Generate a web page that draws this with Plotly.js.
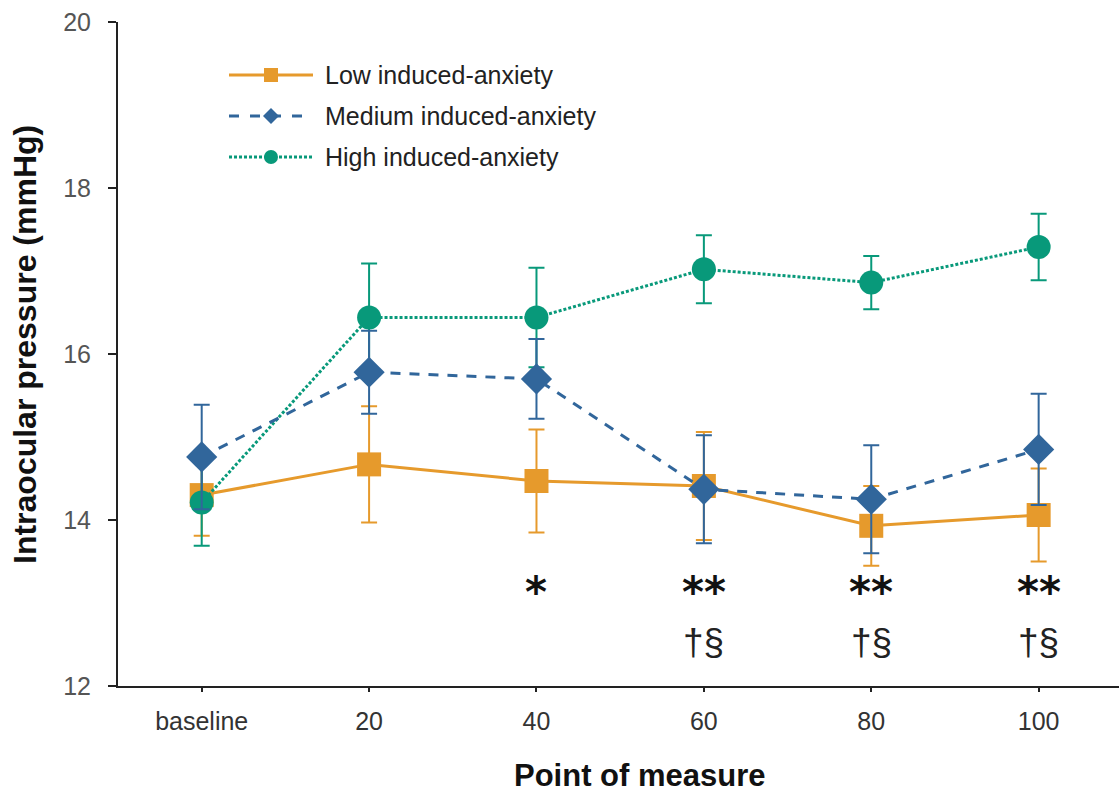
<!DOCTYPE html>
<html>
<head>
<meta charset="utf-8">
<script src="https://cdn.plot.ly/plotly-3.0.1.min.js"></script>
<style>
  html, body { margin: 0; padding: 0; background: #ffffff; }
  #chart { width: 1119px; height: 794px; }
</style>
</head>
<body>
<div id="chart"></div>
<script>
// Measurement points
var points = ['baseline', '20', '40', '60', '80', '100'];

// Mean intraocular pressure (mmHg) and error per group
var lowIOP = [14.30, 14.67, 14.47, 14.41, 13.93, 14.06];
var lowErr = [0.49, 0.70, 0.62, 0.65, 0.48, 0.56];

var medIOP = [14.76, 15.78, 15.70, 14.37, 14.25, 14.85];
var medErr = [0.63, 0.50, 0.48, 0.65, 0.65, 0.67];

var highIOP = [14.21, 16.44, 16.44, 17.02, 16.86, 17.29];
var highErr = [0.52, 0.65, 0.60, 0.41, 0.32, 0.40];

// Significance markers per point
var sigStars = ['', '', '*', '**', '**', '**'];
var sigSymbols = ['', '', '', '†§', '†§', '†§'];

var groupNames = ['Low induced-anxiety', 'Medium induced-anxiety', 'High induced-anxiety'];

var ORANGE = '#E69A2C';
var BLUE = '#31669B';
var GREEN = '#08997A';

var FONT = 'Liberation Sans, Arial, Helvetica, sans-serif';

function series(name, y, err, color, symbol, dash) {
  return {
    type: 'scatter',
    mode: 'lines+markers',
    name: name,
    x: points,
    y: y,
    line: { color: color, width: 3, dash: dash },
    marker: { symbol: symbol, size: 24, color: color, line: { width: 0 } },
    error_y: { type: 'data', array: err, visible: true, color: color, thickness: 2, width: 8 },
    cliponaxis: false
  };
}

// Drawing order: low, high, medium (medium on top)
var traces = [
  series(groupNames[0], lowIOP, lowErr, ORANGE, 'square', 'solid'),
  series(groupNames[2], highIOP, highErr, GREEN, 'circle', '3px,2px'),
  series(groupNames[1], medIOP, medErr, BLUE, 'diamond', '10px,9px')
];

// Plot-area geometry (pixels) used to place the hand-built legend
var L = 118, T = 22, W = 1001, H = 664;
function px(X) { return (X - L) / W; }
function py(Y) { return (T + H - Y) / H; }

var shapes = [];
var annotations = [];

var legendRows = [
  { name: groupNames[0], color: ORANGE, dash: 'solid', marker: 'square', y: 75 },
  { name: groupNames[1], color: BLUE, dash: '10px,11px', marker: 'diamond', y: 116 },
  { name: groupNames[2], color: GREEN, dash: '3px,2px', marker: 'circle', y: 157 }
];

legendRows.forEach(function (r) {
  shapes.push({
    type: 'line', xref: 'paper', yref: 'paper',
    x0: px(229), x1: px(313), y0: py(r.y), y1: py(r.y),
    line: { color: r.color, width: 3, dash: r.dash }
  });
  var common = {
    xref: 'paper', yref: 'paper',
    xsizemode: 'pixel', ysizemode: 'pixel',
    xanchor: px(271), yanchor: py(r.y),
    fillcolor: r.color, line: { width: 0 }
  };
  if (r.marker === 'square') {
    shapes.push(Object.assign({ type: 'rect', x0: -7, x1: 7, y0: -7, y1: 7 }, common));
  } else if (r.marker === 'circle') {
    shapes.push(Object.assign({ type: 'circle', x0: -7, x1: 7, y0: -7, y1: 7 }, common));
  } else {
    shapes.push(Object.assign({ type: 'path', path: 'M0,-8 L8,0 L0,8 L-8,0 Z' }, common));
  }
  annotations.push({
    xref: 'paper', yref: 'paper', x: px(323), y: py(r.y),
    xanchor: 'left', yanchor: 'middle', showarrow: false,
    text: r.name, font: { family: FONT, size: 25, color: '#222222' }
  });
});

// Significance annotations below the curves (x given as category index);
// the star row sits directly on top of the symbol row
points.forEach(function (p, i) {
  if (sigStars[i]) {
    annotations.push({
      x: i, y: 12.81, xref: 'x', yref: 'y',
      xanchor: 'center', yanchor: 'bottom', showarrow: false,
      text: '<b>' + sigStars[i] + '</b>',
      font: { family: 'DejaVu Sans, sans-serif', size: 42, color: '#111111' }
    });
  }
  if (sigSymbols[i]) {
    annotations.push({
      x: i, y: 12.79, xref: 'x', yref: 'y',
      xanchor: 'center', yanchor: 'top', showarrow: false,
      text: sigSymbols[i],
      font: { family: FONT, size: 37, color: '#222222' }
    });
  }
});

// Axis titles
annotations.push({
  xref: 'paper', yref: 'paper', x: px(640), y: py(775),
  xanchor: 'center', yanchor: 'middle', showarrow: false,
  text: '<b>Point of measure</b>',
  font: { family: FONT, size: 31, color: '#111111' }
});
annotations.push({
  xref: 'paper', yref: 'paper', x: px(25), y: py(345),
  xanchor: 'center', yanchor: 'middle', showarrow: false, textangle: -90,
  text: '<b>Intraocular pressure (mmHg)</b>',
  font: { family: FONT, size: 32, color: '#111111' }
});

var layout = {
  width: 1119,
  height: 794,
  margin: { l: L, r: 0, t: T, b: 794 - T - H },
  paper_bgcolor: '#ffffff',
  plot_bgcolor: '#ffffff',
  showlegend: false,
  font: { family: FONT },
  xaxis: {
    type: 'category',
    range: [-0.5, 5.48],
    showgrid: false,
    zeroline: false,
    showline: true,
    linecolor: '#222222',
    linewidth: 2,
    ticks: 'outside',
    ticklen: 4,
    tickwidth: 2,
    tickcolor: '#222222',
    ticklabelstandoff: 8,
    tickfont: { family: FONT, size: 25, color: '#333333' }
  },
  yaxis: {
    range: [12, 20],
    dtick: 2,
    tick0: 12,
    showgrid: false,
    zeroline: false,
    showline: true,
    linecolor: '#222222',
    linewidth: 2,
    ticks: 'outside',
    ticklen: 8,
    tickwidth: 2,
    tickcolor: '#222222',
    ticklabelstandoff: 12,
    tickfont: { family: FONT, size: 25, color: '#555555' }
  },
  shapes: shapes,
  annotations: annotations
};

Plotly.newPlot('chart', traces, layout, { displayModeBar: false, staticPlot: true });
</script>
</body>
</html>
